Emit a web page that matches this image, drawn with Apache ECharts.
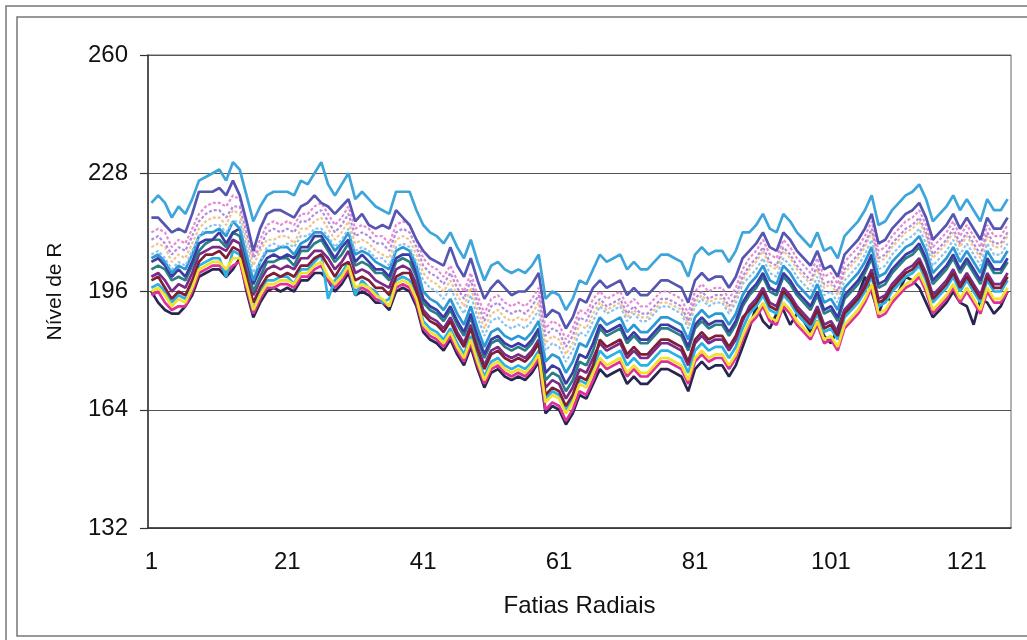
<!DOCTYPE html>
<html>
<head>
<meta charset="utf-8">
<script src="https://cdn.jsdelivr.net/npm/echarts@6/dist/echarts.min.js"></script>
<style>
  html, body { margin: 0; padding: 0; background: #ffffff; }
  #chart { width: 1027px; height: 640px; }
</style>
</head>
<body>
<div id="chart"></div>
<script>
// Radial slice index (1..127)
const categories = ['1','2','3','4','5','6','7','8','9','10','11','12','13','14','15','16','17','18','19','20','21','22','23','24','25','26','27','28','29','30','31','32','33','34','35','36','37','38','39','40','41','42','43','44','45','46','47','48','49','50','51','52','53','54','55','56','57','58','59','60','61','62','63','64','65','66','67','68','69','70','71','72','73','74','75','76','77','78','79','80','81','82','83','84','85','86','87','88','89','90','91','92','93','94','95','96','97','98','99','100','101','102','103','104','105','106','107','108','109','110','111','112','113','114','115','116','117','118','119','120','121','122','123','124','125','126','127'];

const yTicks = [132, 164, 196, 228, 260];

// R level per radial slice, one array per curve
const skyBlue = [220,222,220,216,219,217,221,226,227,228,229,226,231,229,222,215,219,222,223,223,223,222,226,225,228,231,225,222,225,228,221,223,221,219,218,217,223,223,223,218,
  214,212,211,209,212,208,205,210,204,199,203,204,202,201,202,201,203,206,
  194,196,195,191,194,199,198,202,
  206,204,205,206,202,204,202,202,204,206,206,205,204,200,206,208,206,207,207,204,207,212,
  212,214,217,213,212,217,215,212,210,208,212,207,208,205,211,213,215,218,222,214,215,218,220,222,223,225,221,215,217,219,222,218,221,218,215,221,218,218,221];

const slateBlue = [216,216,214,212,213,212,217,223,223,223,224,222,226,222,215,207,213,217,218,218,217,216,219,220,222,220,219,217,219,221,215,217,214,213,214,213,218,216,214,210,
  207,205,204,203,208,203,200,205,199,194,197,199,197,195,196,196,198,201,
  189,191,190,186,189,194,193,197,
  199,197,198,199,195,197,195,195,197,199,199,198,197,193,199,201,199,200,200,197,200,205,
  207,209,212,208,207,212,210,207,205,203,207,202,203,200,206,208,210,213,217,209,210,213,215,217,218,220,216,210,212,214,217,213,216,213,210,216,213,213,216];

const rose = [212,213,212,208,210,209,213,217,219,220,220,219,222,221,214,206,210,214,215,214,215,214,217,217,219,220,217,214,216,219,213,214,213,211,211,209,214,215,214,210,
  205,203,202,200,203,199,196,201,195,190,194,195,193,192,193,192,194,197,
  186,188,187,183,186,191,190,194,
  196,194,195,196,192,194,192,192,194,196,196,195,194,190,196,198,196,197,197,194,197,202,
  205,207,210,206,205,210,208,205,203,201,205,200,201,198,204,206,208,211,215,207,208,211,213,215,216,218,214,208,210,212,215,211,214,211,208,214,211,211,214];

const lavender = [210,211,209,206,208,207,211,215,217,218,218,216,219,219,212,205,208,212,213,212,213,212,215,215,217,218,215,212,214,217,211,212,211,209,209,207,212,213,212,208,
  203,201,200,198,201,197,194,199,193,188,192,193,191,190,191,190,192,195,
  184,186,185,181,184,189,188,192,
  194,192,193,194,190,192,190,190,192,194,194,193,192,188,194,196,194,195,195,192,195,200,
  203,205,208,204,203,208,206,203,201,199,203,198,199,196,202,204,206,209,213,205,206,209,211,213,214,216,212,206,208,210,213,209,212,209,206,212,209,209,212];

const tan = [208,209,208,204,206,205,209,213,215,216,216,214,218,217,210,203,207,210,210,211,211,209,213,213,215,216,213,210,212,215,209,210,209,207,206,205,210,211,210,206,
  201,199,198,196,199,195,192,197,191,186,190,191,189,188,189,188,190,193,
  182,184,183,179,182,187,186,190,
  193,191,192,193,189,191,189,189,191,193,193,192,191,187,193,195,193,194,194,191,194,199,
  202,204,207,203,202,207,205,202,200,198,202,197,198,195,201,203,205,208,212,204,205,208,210,212,213,215,211,205,207,209,212,208,211,208,205,211,208,208,211];

const paleBlue = [206,207,205,202,204,203,207,211,213,214,214,212,215,215,208,201,204,208,209,208,209,208,211,211,213,213,211,208,210,213,207,208,207,205,205,203,208,209,208,204,
  199,197,196,194,197,193,190,195,189,184,188,189,187,186,187,186,188,191,
  180,182,181,177,180,185,184,188,
  192,190,191,192,188,190,188,188,190,192,192,191,190,186,192,194,192,193,193,190,193,198,
  200,202,205,201,200,205,203,200,198,196,200,195,196,193,199,201,203,206,210,202,203,206,208,210,211,213,209,203,205,207,210,206,209,206,203,209,206,206,209];

const midBlue = [205,206,204,201,203,202,206,211,212,212,213,211,215,213,206,199,204,207,207,208,208,206,209,210,212,212,210,207,209,212,206,207,206,204,203,202,207,208,207,203,
  196,194,193,191,194,190,187,192,186,181,185,186,184,183,184,183,185,188,
  177,179,178,174,177,182,181,185,
  189,187,188,189,185,187,185,185,187,189,189,188,187,183,189,191,189,190,190,187,190,195,
  198,200,203,199,198,203,201,198,196,194,198,193,194,191,197,199,201,204,208,200,201,204,206,208,209,211,207,201,203,205,208,204,207,204,201,207,204,204,207];

const teal = [202,203,202,199,200,199,203,207,209,210,210,208,212,211,204,196,200,204,204,205,205,203,207,207,209,210,207,204,206,209,203,204,203,201,201,199,204,205,204,200,
  193,191,190,188,191,187,184,189,183,178,182,183,181,180,181,180,182,185,
  172,174,173,169,172,177,176,180,
  186,184,185,186,182,184,182,182,184,186,186,185,184,180,186,188,186,187,187,184,187,192,
  195,197,200,196,195,200,198,195,193,191,195,190,191,188,194,196,198,201,205,197,198,201,203,205,206,208,204,198,200,202,205,201,204,201,198,204,201,201,204];

const violet = [204,205,203,200,202,200,204,209,210,210,212,209,212,213,205,198,202,205,206,205,206,205,208,208,211,211,208,205,208,210,204,206,204,202,202,200,205,206,206,201,
  194,192,191,189,192,188,185,190,184,179,183,184,182,181,182,181,183,186,
  174,176,175,171,174,179,178,182,
  187,185,186,187,183,185,183,183,185,187,187,186,185,181,187,189,187,188,188,185,188,193,
  196,198,201,197,196,201,199,196,194,192,196,191,192,189,195,197,199,202,206,198,199,202,204,206,207,209,205,199,201,203,206,202,205,202,199,205,202,202,205];

const purple = [200,201,199,196,198,197,201,206,207,208,208,207,210,209,202,195,199,202,203,202,203,202,205,205,207,207,205,202,204,207,201,202,201,199,198,197,202,203,202,198,
  191,189,188,186,189,185,182,187,181,176,180,181,179,178,179,178,180,183,
  170,172,171,167,170,175,174,178,
  182,180,181,182,178,180,178,178,180,182,182,181,180,176,182,184,182,183,183,180,183,188,
  192,194,197,193,192,197,195,192,190,188,192,187,188,185,191,193,195,198,202,194,195,198,200,202,203,205,201,195,197,199,202,198,201,198,195,201,198,198,201];

const maroon = [199,200,197,194,196,195,199,204,206,206,207,205,208,207,200,193,197,200,201,200,201,200,203,203,205,206,203,200,203,204,199,200,199,197,197,195,200,201,201,196,
  190,188,187,185,188,184,181,186,180,175,179,180,178,177,178,177,179,182,
  168,170,169,165,168,173,172,176,
  183,181,182,183,179,181,179,179,181,183,183,182,181,177,183,185,183,184,184,181,184,189,
  191,193,196,192,191,196,194,191,189,187,191,186,187,184,190,192,194,197,201,193,194,197,199,201,202,204,200,194,196,198,201,197,200,197,194,200,197,197,200];

const cyan = [197,198,196,193,195,194,198,203,204,205,205,200,207,206,199,191,196,199,199,200,200,198,202,202,204,206,194,199,201,204,195,199,197,196,193,194,199,200,199,195,
  188,186,185,183,186,182,179,184,178,173,177,178,176,175,176,175,177,180,
  167,169,168,164,167,172,171,175,
  180,178,179,180,176,178,176,176,178,180,180,179,178,174,180,182,180,181,181,178,181,186,
  190,192,195,191,190,195,193,190,188,186,190,185,186,183,189,191,193,196,200,192,193,196,198,200,201,203,199,193,195,197,200,196,199,196,193,199,196,196,199];

const yellow = [196,197,195,192,194,193,197,202,203,204,204,202,205,205,198,191,195,198,198,199,199,198,201,201,203,204,200,198,200,203,197,198,197,195,194,192,198,199,198,194,
  187,185,184,182,185,181,178,183,177,172,176,177,175,174,175,174,176,179,
  166,168,167,163,166,171,170,174,
  178,176,177,178,174,176,174,174,176,178,178,177,176,172,178,180,178,179,179,176,179,184,
  188,190,193,189,188,193,191,188,186,184,188,183,184,181,187,189,191,194,198,190,191,194,196,198,199,201,197,191,193,195,198,194,197,194,191,197,194,194,197];

const magenta = [195,196,193,191,192,192,196,201,202,203,203,201,203,204,197,190,194,197,197,198,198,197,200,200,202,203,199,197,199,202,196,197,196,194,193,192,197,198,197,193,
  186,184,183,181,184,180,177,182,176,171,175,176,174,173,174,173,175,178,
  164,166,165,161,164,169,168,172,
  177,175,176,177,173,175,173,173,175,177,177,176,175,171,177,179,177,178,178,175,178,183,
  187,189,192,188,187,192,190,187,185,183,187,182,183,180,186,188,190,193,197,189,190,193,195,197,198,200,196,190,192,194,197,193,196,193,190,196,193,193,196];

const navy = [196,193,191,190,190,192,195,200,201,202,202,200,202,205,196,189,193,196,197,196,197,196,199,199,201,201,199,196,198,201,195,196,195,193,193,191,196,197,196,192,
  185,183,182,180,183,179,176,181,175,170,174,175,173,172,173,172,174,177,
  163,165,164,160,163,168,167,171,
  175,173,174,175,171,173,171,171,173,175,175,174,173,169,175,177,175,176,176,173,176,181,
  186,192,188,186,190,191,187,190,188,185,188,184,182,186,191,193,195,200,196,190,195,193,196,200,199,197,193,189,191,193,196,193,192,187,194,193,190,192,196];

// Curve list: data, colour, dotted or solid
const curves = [
  { data: navy,      color: '#262651', dotted: false },
  { data: magenta,   color: '#DF2F9B', dotted: false },
  { data: cyan,      color: '#2AB2E6', dotted: false },
  { data: purple,    color: '#7B2A86', dotted: false },
  { data: maroon,    color: '#7D1F36', dotted: false },
  { data: yellow,    color: '#F3E12B', dotted: false },
  { data: teal,      color: '#2B7E86', dotted: false },
  { data: violet,    color: '#3B3BA3', dotted: false },
  { data: midBlue,   color: '#2C98D4', dotted: false },
  { data: paleBlue,  color: '#8EC3EE', dotted: true },
  { data: tan,       color: '#EFC48E', dotted: true },
  { data: lavender,  color: '#B38BE0', dotted: true },
  { data: rose,      color: '#E58BD6', dotted: true },
  { data: slateBlue, color: '#5656B2', dotted: false },
  { data: skyBlue,   color: '#3DA5D9', dotted: false }
];

const font = "'Liberation Sans', Arial, sans-serif";
const chart = echarts.init(document.getElementById('chart'), null, { renderer: 'canvas' });

chart.setOption({
  animation: false,
  backgroundColor: '#ffffff',
  graphic: [
    { type: 'rect', shape: { x: 6, y: 6, width: 1100, height: 700 },
      style: { fill: 'none', stroke: '#777', lineWidth: 1.5 }, silent: true },
    { type: 'rect', shape: { x: 17, y: 17, width: 1100, height: 619 },
      style: { fill: 'none', stroke: '#777', lineWidth: 1.5 }, silent: true }
  ],
  grid: { left: 148, right: 16, top: 55, bottom: 112, show: true,
          borderColor: '#666', borderWidth: 1, backgroundColor: 'transparent' },
  xAxis: {
    type: 'category',
    data: categories,
    boundaryGap: true,
    name: 'Fatias Radiais',
    nameLocation: 'middle',
    nameGap: 66,
    nameTextStyle: { fontSize: 24, fontFamily: font, color: '#111' },
    axisLine: { lineStyle: { color: '#333', width: 1.5 } },
    axisTick: { interval: 4, length: 6, lineStyle: { color: '#333', width: 1.2 } },
    axisLabel: { interval: 19, margin: 22, fontSize: 24, fontFamily: font, color: '#111' },
    splitLine: { show: false }
  },
  yAxis: {
    type: 'value',
    min: yTicks[0],
    max: yTicks[yTicks.length - 1],
    interval: 32,
    name: 'Nível de R',
    nameLocation: 'middle',
    nameRotate: 90,
    nameGap: 82,
    nameTextStyle: { fontSize: 21, fontFamily: font, color: '#111' },
    axisLine: { show: true, lineStyle: { color: '#333', width: 1.5 } },
    axisTick: { show: true, length: 8, lineStyle: { color: '#333', width: 1.2 } },
    axisLabel: { margin: 20, fontSize: 24, fontFamily: font, color: '#111' },
    splitLine: { show: true, lineStyle: { color: '#555', width: 1.2 } }
  },
  series: curves.map(c => ({
    type: 'line',
    data: c.data,
    symbol: 'none',
    smooth: false,
    lineStyle: { color: c.color, width: c.dotted ? 2.2 : 2.7, type: c.dotted ? [3, 2] : 'solid' },
    itemStyle: { color: c.color }
  }))
});
</script>
</body>
</html>
